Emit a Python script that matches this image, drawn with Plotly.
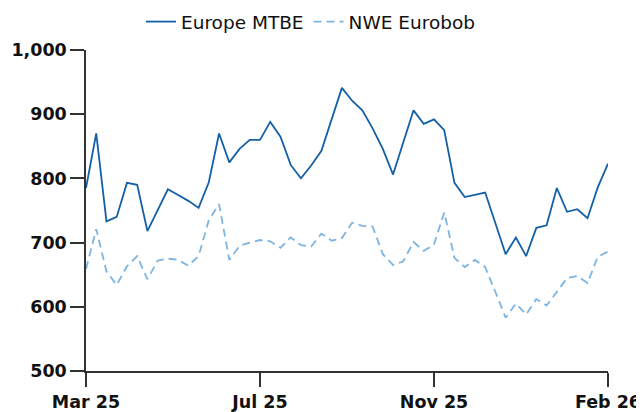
import plotly.graph_objects as go

tick_labels = ["Mar 25", "Jul 25", "Nov 25", "Feb 26"]
tick_index = [0, 17, 34, 51]

europe_mtbe = [785, 870, 733, 740, 793, 790, 718, 751, 783, 774,
               765, 754, 794, 870, 825, 846, 860, 860, 888, 865,
               821, 800, 820, 843, 891, 941, 921, 906, 878, 846,
               806, 857, 906, 885, 892, 875, 793, 771, 775, 778,
               730, 682, 708, 679, 723, 727, 785, 748, 752, 738,
               786, 823]

nwe_eurobob = [659, 721, 655, 634, 663, 679, 643, 672, 675, 673,
               664, 679, 735, 760, 673, 695, 700, 704, 702, 692,
               708, 696, 694, 714, 703, 707, 731, 726, 725, 682,
               665, 671, 701, 687, 697, 747, 676, 662, 673, 662,
               623, 583, 605, 588, 612, 602, 623, 645, 648, 637,
               678, 686]

x = list(range(len(europe_mtbe)))

fig = go.Figure()
fig.add_trace(go.Scatter(x=x, y=europe_mtbe, mode="lines", name="Europe MTBE",
                         line=dict(color="#1460a6", width=1.8)))
fig.add_trace(go.Scatter(x=x, y=nwe_eurobob, mode="lines", name="NWE Eurobob",
                         line=dict(color="#7db5e2", width=1.8, dash="8px,5px")))

# page has an 8px body margin, so the figure is sized 636x404
fig.update_layout(
    width=636, height=404,
    margin=dict(l=78, r=36, t=42, b=41, autoexpand=False),
    paper_bgcolor="white", plot_bgcolor="white",
    font=dict(family="DejaVu Sans", size=17, color="#111"),
    legend=dict(orientation="h", x=0.431, xanchor="center", y=1.087, yanchor="middle",
                font=dict(size=18.5), tracegroupgap=0),
    showlegend=True,
)
fig.update_xaxes(range=[0, 51], tickvals=tick_index, ticktext=tick_labels,
                 automargin=False,
                 showgrid=False, zeroline=False, showline=True, linecolor="#333",
                 linewidth=1.5, ticks="outside", ticklen=14, tickcolor="#333",
                 tickwidth=1.5, tickfont=dict(size=17.5, family="DejaVu Sans", weight="bold"))
fig.update_yaxes(range=[500, 1000], tickvals=[500, 600, 700, 800, 900, 1000],
                 automargin=False,
                 tickformat=",", showgrid=False, zeroline=False, showline=True,
                 linecolor="#333", linewidth=1.5, ticks="outside", ticklen=14,
                 tickcolor="#333", tickwidth=1.5,
                 tickfont=dict(size=17.5, family="DejaVu Sans", weight="bold"))

fig.write_html("out.html")
